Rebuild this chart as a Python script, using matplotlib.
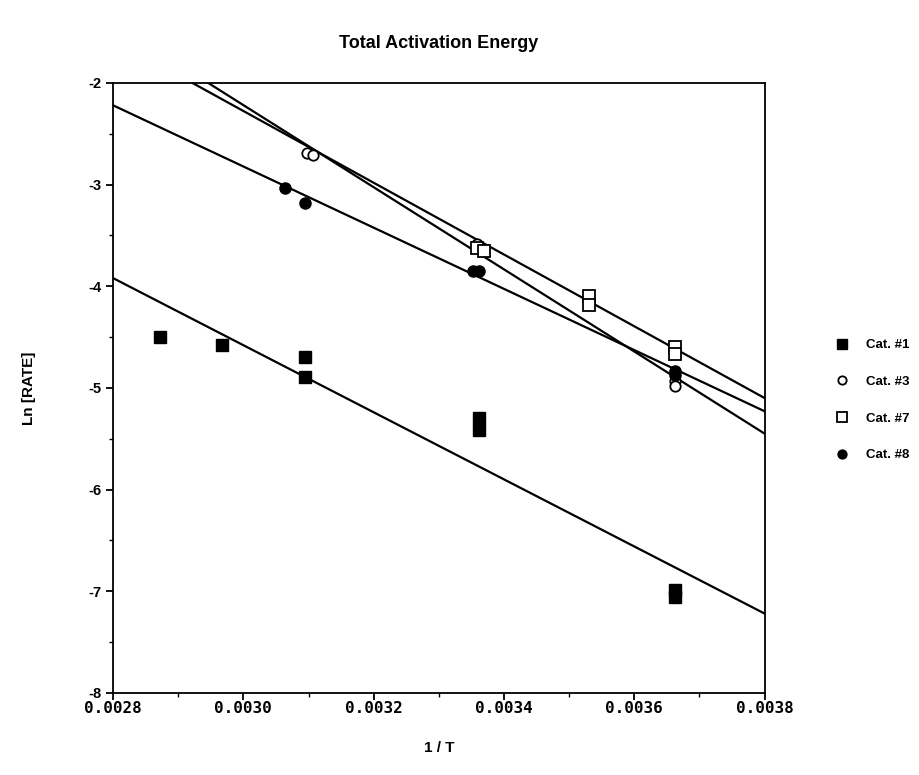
import matplotlib.pyplot as plt
from matplotlib.ticker import MultipleLocator, FixedLocator
import numpy as np

plt.rcParams['font.family'] = ['Liberation Sans', 'DejaVu Sans']
plt.rcParams['font.weight'] = 'bold'

# 1/T values and Ln(rate)
x_cat1 = [0.002872, 0.002967, 0.003095, 0.003095, 0.003362, 0.003362, 0.003663, 0.003663]
y_cat1 = [-4.50, -4.58, -4.70, -4.89, -5.30, -5.41, -6.99, -7.06]

x_cat3 = [0.003097, 0.003107, 0.003358, 0.003663, 0.003663]
y_cat3 = [-2.69, -2.71, -3.58, -4.93, -4.98]

x_cat7 = [0.003358, 0.003370, 0.003530, 0.003530, 0.003663, 0.003663]
y_cat7 = [-3.62, -3.65, -4.10, -4.18, -4.60, -4.67]

x_cat8 = [0.003064, 0.003095, 0.003352, 0.003362, 0.003663, 0.003663]
y_cat8 = [-3.03, -3.18, -3.85, -3.85, -4.83, -4.87]

# fitted lines, value at 1/T = 0.0028 and 0.0038
fit_x = [0.0028, 0.0038]
fit_cat1 = [-3.92, -7.22]
fit_cat3 = [-1.41, -5.45]
fit_cat7 = [-1.57, -5.10]
fit_cat8 = [-2.22, -5.23]

xticks = [0.0028, 0.0030, 0.0032, 0.0034, 0.0036, 0.0038]
xtick_labels = ['0.0028', '0.0030', '0.0032', '0.0034', '0.0036', '0.0038']
yticks = [-8, -7, -6, -5, -4, -3, -2]

fig = plt.figure(figsize=(9.19, 7.75), dpi=100)
ax = fig.add_axes([0.123, 0.106, 0.709, 0.787])

for fy in [fit_cat1, fit_cat3, fit_cat7, fit_cat8]:
    ax.plot(fit_x, fy, color='black', lw=1.6, zorder=2)

ax.plot(x_cat1, y_cat1, 's', color='black', ms=8.5, ls='none', zorder=3, label='Cat. #1')
ax.plot(x_cat3, y_cat3, 'o', mfc='white', mec='black', mew=1.3, ms=7.5, ls='none', zorder=3, label='Cat. #3')
ax.plot(x_cat7, y_cat7, 's', mfc='white', mec='black', mew=1.3, ms=8.5, ls='none', zorder=3, label='Cat. #7')
ax.plot(x_cat8, y_cat8, 'o', color='black', ms=8, ls='none', zorder=3, label='Cat. #8')

ax.set_xlim(0.0028, 0.0038)
ax.set_ylim(-8, -2)
ax.xaxis.set_major_locator(FixedLocator(xticks))
ax.set_xticklabels(xtick_labels, family='DejaVu Sans Mono', fontsize=11.5, weight='bold')
ax.xaxis.set_minor_locator(MultipleLocator(0.0001))
ax.set_yticks(yticks)
ax.set_yticklabels([str(v) for v in yticks], fontsize=10.5, weight='bold')
ax.yaxis.set_minor_locator(MultipleLocator(0.5))
ax.tick_params(direction='out', length=5, width=1.3, pad=3)
ax.tick_params(axis='x', pad=1)
ax.tick_params(which='minor', direction='out', length=3, width=1)
for s in ax.spines.values():
    s.set_linewidth(1.3)

ax.set_title('Total Activation Energy', fontsize=13, weight='bold', pad=25)
ax.set_xlabel('1 / T', fontsize=11, weight='bold', labelpad=18)
ax.set_ylabel('Ln [RATE]', fontsize=11, weight='bold', labelpad=38)

leg = ax.legend(loc='center left', bbox_to_anchor=(1.08, 0.48), frameon=False,
                fontsize=9.5, handletextpad=0.8, labelspacing=1.85, markerscale=0.8)

fig.savefig('out.png', dpi=100)
